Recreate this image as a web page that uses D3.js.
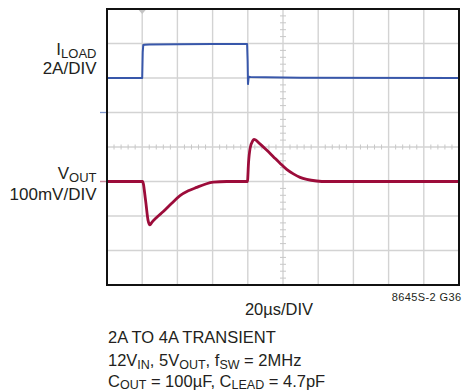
<!DOCTYPE html>
<html><head><meta charset="utf-8">
<script src="https://cdn.jsdelivr.net/npm/d3@7"></script>
<style>
html,body{margin:0;padding:0;background:#fff;}
svg{display:block;}
text{font-family:"Liberation Sans",Arial,sans-serif;fill:#231f20;}
</style></head>
<body>
<svg id="c" width="474" height="391"></svg>
<script>
// time axis in microseconds (20us/div, 10 divisions)
const xDomain = [0, 200];
const xDivs = 10, yDivs = 8;
// ILOAD trace (A, 2A/DIV)
const tLoad = [0, 20.0, 20.3, 20.6, 21.5, 24, 40, 60, 79.6, 79.9, 80.1, 80.5, 81.5, 90, 110, 200];
const iLoad = [2.0, 2.0, 3.5, 3.91, 3.93, 3.94, 3.96, 3.97, 3.97, 3.0, 1.65, 2.08, 2.06, 2.04, 2.01, 2.0];
// VOUT trace (mV deviation, 100mV/DIV)
const tOut = [0, 20.2, 21.9, 23.3, 24.4, 25.4, 28.2, 32.0, 36.8, 41.5, 46.2, 51.0, 55.7, 60.4, 68, 79.8, 80.4, 81.3, 82.8, 83.5, 86.9, 90.7, 94.5, 98.3, 102.1, 105.9, 109.7, 113.5, 119.1, 125, 200];
const vOut = [0, 0, -54, -112, -126, -119, -104, -87, -63, -41, -27, -17, -8, -2, 0, 0, 53, 96, 118, 122, 109, 91, 72, 53, 35, 22, 12, 6, 1.5, 0, 0];
const loadLabel = ["I", "LOAD", "2A/DIV"];
const outLabel = ["V", "OUT", "100mV/DIV"];
const xLabel = "20µs/DIV";
const figId = "8645S-2 G36";

const svg = d3.select("#c");
const L = 107, R = 459, T = 9, B = 285;
const x = d3.scaleLinear(xDomain, [L, R]);
const yDiv = d3.scaleLinear([-yDivs/2, yDivs/2], [B, T]);
const yI = d3.scaleLinear([-10, 6], [B, T]);      // div = 1 + I/2
const yV = d3.scaleLinear([-300, 500], [B, T]);   // div = -1 + dV/100

const g = svg.append("g");
// grid
const xStep = (xDomain[1]-xDomain[0])/xDivs;
const xt = d3.range(1, xDivs).map(i => xDomain[0] + i*xStep);
const yt = d3.range(-yDivs/2+1, yDivs/2);
g.selectAll("line.vg").data(xt).join("line")
  .attr("x1", d=>x(d)).attr("x2", d=>x(d)).attr("y1", T).attr("y2", B)
  .attr("stroke", "#d3d3d3").attr("stroke-width", 1.4);
g.selectAll("line.hg").data(yt).join("line")
  .attr("y1", d=>yDiv(d)).attr("y2", d=>yDiv(d)).attr("x1", L).attr("x2", R)
  .attr("stroke", "#d3d3d3").attr("stroke-width", 1.4);
// minor ticks on center lines
const xm = d3.range(1, xDivs*5).filter(i=>i%5!==0).map(i => xDomain[0] + i*xStep/5);
g.selectAll("line.xm").data(xm).join("line")
  .attr("x1", d=>x(d)).attr("x2", d=>x(d)).attr("y1", yDiv(0)-2.5).attr("y2", yDiv(0)+2.5)
  .attr("stroke", "#c8c8c8").attr("stroke-width", 1);
const ym = d3.range(1, yDivs*5).filter(i=>i%5!==0).map(i => -yDivs/2 + i/5);
const xc = x((xDomain[0]+xDomain[1])/2);
g.selectAll("line.ym").data(ym).join("line")
  .attr("y1", d=>yDiv(d)).attr("y2", d=>yDiv(d)).attr("x1", xc-3).attr("x2", xc+3)
  .attr("stroke", "#c8c8c8").attr("stroke-width", 1);
// trigger marker
g.append("path").attr("d", `M${x(20)-3.5},${T+1}L${x(20)+3.5},${T+1}L${x(20)},${T+5}Z`).attr("fill", "#c4c4c4");
// channel markers
g.append("line").attr("x1", 100).attr("x2", 106).attr("y1", yI(0)).attr("y2", yI(0)).attr("stroke", "#7f97cc").attr("stroke-width", 1.3);
g.append("line").attr("x1", 100).attr("x2", 106).attr("y1", yV(0)).attr("y2", yV(0)).attr("stroke", "#c98a9c").attr("stroke-width", 1.5);

// traces
const lineI = d3.line().x((d,i)=>x(tLoad[i])).y(d=>yI(d));
g.append("path").attr("d", lineI(iLoad)).attr("fill","none").attr("stroke","#3857aa").attr("stroke-width",2).attr("stroke-linejoin","round");
const lineV = d3.line().x((d,i)=>x(tOut[i])).y(d=>yV(d)).curve(d3.curveMonotoneX);
g.append("path").attr("d", lineV(vOut)).attr("fill","none").attr("stroke","#9c0c3a").attr("stroke-width",2.8).attr("stroke-linejoin","round");

// frame
g.append("rect").attr("x", L).attr("y", T).attr("width", R-L).attr("height", B-T)
  .attr("fill","none").attr("stroke","#111").attr("stroke-width",2);

// labels
const t1 = svg.append("text").attr("x", 96.5).attr("y", 55).attr("text-anchor","end").style("font-size","17px");
t1.append("tspan").text(loadLabel[0]);
t1.append("tspan").attr("dy", 2.5).style("font-size","13px").text(loadLabel[1]);
svg.append("text").attr("x", 96.5).attr("y", 74).attr("text-anchor","end").style("font-size","17px").text(loadLabel[2]);
const t2 = svg.append("text").attr("x", 96.5).attr("y", 179.3).attr("text-anchor","end").style("font-size","17px");
t2.append("tspan").text(outLabel[0]);
t2.append("tspan").attr("dy", 2.5).style("font-size","13px").text(outLabel[1]);
svg.append("text").attr("x", 96.5).attr("y", 200).attr("text-anchor","end").style("font-size","17px").text(outLabel[2]);

svg.append("text").attr("x", 279).attr("y", 315).attr("text-anchor","middle").style("font-size","16.5px").text(xLabel);
svg.append("text").attr("x", 461.5).attr("y", 301).attr("text-anchor","end").style("font-size","11px").style("letter-spacing","0.4px").text(figId);

// condition lines (with subscripts)
const lines = [
  [["2A TO 4A TRANSIENT", 0]],
  [["12V",0],["IN",1],[", 5V",0],["OUT",1],[", f",0],["SW",1],[" = 2MHz",0]],
  [["C",0],["OUT",1],[" = 100µF, C",0],["LEAD",1],[" = 4.7pF",0]]
];
const baselines = [342.8, 366.3, 386.8];
lines.forEach((parts, li) => {
  const t = svg.append("text").attr("x", 108).attr("y", baselines[li]).style("font-size","16.5px");
  let prev = 0;
  parts.forEach(([s, sub]) => {
    const dy = (sub ? 2.5 : 0) - (prev ? 2.5 : 0);
    t.append("tspan").attr("dy", dy).style("font-size", sub ? "12.5px" : "16.5px").text(s);
    prev = sub;
  });
});
</script>
</body></html>
